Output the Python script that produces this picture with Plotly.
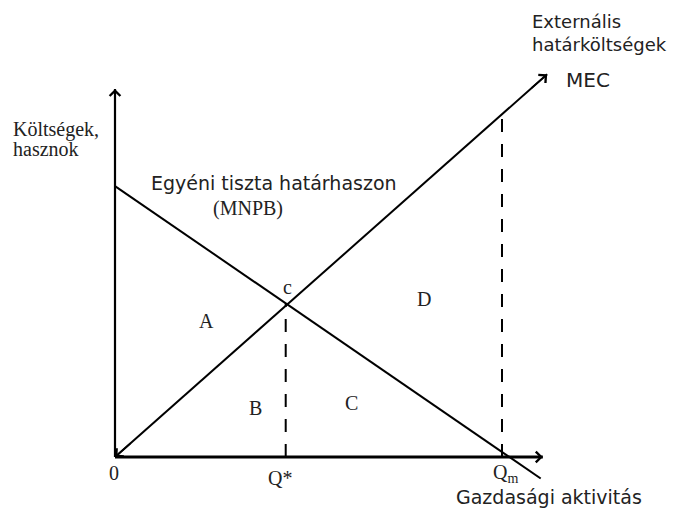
import plotly.graph_objects as go

# ---- data (economic units) ----
mnpb_x = [0.0, 9.9]
mnpb_y = [6.3, -0.5]
mec_x = [0.0, 10.05]
mec_y = [0.0, 8.9]
q_star = 3.97
q_m = 9.0
axis_x_end = 9.95
axis_y_end = 8.56
area_labels = ["A", "B", "C", "D"]
area_x = [2.12, 3.26, 5.51, 7.19]
area_y = [3.16, 1.14, 1.26, 3.67]
tick_labels = ["0", "Q*", "Q<sub>m</sub>"]
tick_vals = [0.0, q_star, q_m]

# pixel <-> data scale (43 px per unit, origin at px (115,457))
U = 43.0
OX, OY = 115.0, 457.0
W, H = 681, 511

def dx(px):
    return (px - OX) / U

def dy(py):
    return (OY - py) / U

serif = "Liberation Serif"
sans = "DejaVu Sans"
txt = "#222222"

fig = go.Figure()

fig.add_trace(go.Scatter(x=mnpb_x, y=mnpb_y, mode="lines",
                         line=dict(color="black", width=2), hoverinfo="skip"))
fig.add_trace(go.Scatter(x=mec_x, y=mec_y, mode="lines",
                         line=dict(color="black", width=2), hoverinfo="skip"))

slope_mec = (mec_y[1] - mec_y[0]) / (mec_x[1] - mec_x[0])
slope_mnpb = (mnpb_y[1] - mnpb_y[0]) / (mnpb_x[1] - mnpb_x[0])

# dashed verticals
fig.add_trace(go.Scatter(x=[q_star, q_star], y=[0, mnpb_y[0] + slope_mnpb * q_star],
                         mode="lines", line=dict(color="black", width=2, dash="13px,12px"),
                         hoverinfo="skip"))
fig.add_trace(go.Scatter(x=[q_m, q_m], y=[0, slope_mec * q_m],
                         mode="lines", line=dict(color="black", width=2, dash="13px,12px"),
                         hoverinfo="skip"))

# axes
fig.add_trace(go.Scatter(x=[0, axis_x_end], y=[0, 0], mode="lines",
                         line=dict(color="black", width=3), hoverinfo="skip"))
fig.add_trace(go.Scatter(x=[0, 0], y=[0, axis_y_end], mode="lines",
                         line=dict(color="black", width=2.2), hoverinfo="skip"))

annotations = []
def arrow(x, y, ax, ay):
    annotations.append(dict(x=x, y=y, ax=ax, ay=ay, xref="x", yref="y",
                            axref="x", ayref="y", text="", showarrow=True,
                            arrowhead=4, arrowsize=1.3, arrowwidth=1.6,
                            arrowcolor="black"))

arrow(axis_x_end, 0, axis_x_end - 0.5, 0)
arrow(0, axis_y_end, 0, axis_y_end - 0.5)
arrow(mec_x[1], mec_y[1], mec_x[1] - 0.4, mec_y[1] - 0.4 * slope_mec)
arrow(mec_x[0], mec_y[0], mec_x[0] + 0.4, mec_y[0] + 0.4 * slope_mec)

def label(px, py, text, font, size, xanchor="center", yanchor="middle", align="center"):
    annotations.append(dict(x=dx(px), y=dy(py), xref="x", yref="y", text=text,
                            showarrow=False, xanchor=xanchor, yanchor=yanchor,
                            align=align, font=dict(family=font, size=size, color=txt)))

label(11, 129, "Költségek,", serif, 20, xanchor="left", align="left")
label(11, 149, "hasznok", serif, 20, xanchor="left", align="left")
label(149, 183, "Egyéni tiszta határhaszon", sans, 19, xanchor="left")
label(248, 208, "(MNPB)", serif, 20)
label(530, 33, "Externális<br>határköltségek", sans, 18, xanchor="left", align="left")
label(564, 80, "MEC", sans, 20, xanchor="left")
label(454, 497, "Gazdasági aktivitás", sans, 19, xanchor="left")
label(287, 287, "c", serif, 20)

for t, x, y in zip(area_labels, area_x, area_y):
    annotations.append(dict(x=x, y=y, xref="x", yref="y", text=t, showarrow=False,
                            font=dict(family=serif, size=20, color=txt)))

tick_offsets_px = [16, 21, 16]
tick_shift_px = [-1, -6, 3]
for t, v, o, s in zip(tick_labels, tick_vals, tick_offsets_px, tick_shift_px):
    annotations.append(dict(x=v, y=0, xref="x", yref="y", text=t, showarrow=False,
                            xshift=s, yshift=-o,
                            font=dict(family=serif, size=20, color=txt)))

fig.update_layout(
    width=W, height=H,
    margin=dict(l=0, r=0, t=0, b=0),
    paper_bgcolor="white", plot_bgcolor="white",
    showlegend=False,
    xaxis=dict(range=[dx(0), dx(W)], visible=False, fixedrange=True),
    yaxis=dict(range=[dy(H), dy(0)], visible=False, fixedrange=True),
    annotations=annotations,
)

fig.write_html("out.html",
               config={"displayModeBar": False, "staticPlot": True},
               post_script="document.body.style.margin='0';document.body.style.overflow='hidden';")
